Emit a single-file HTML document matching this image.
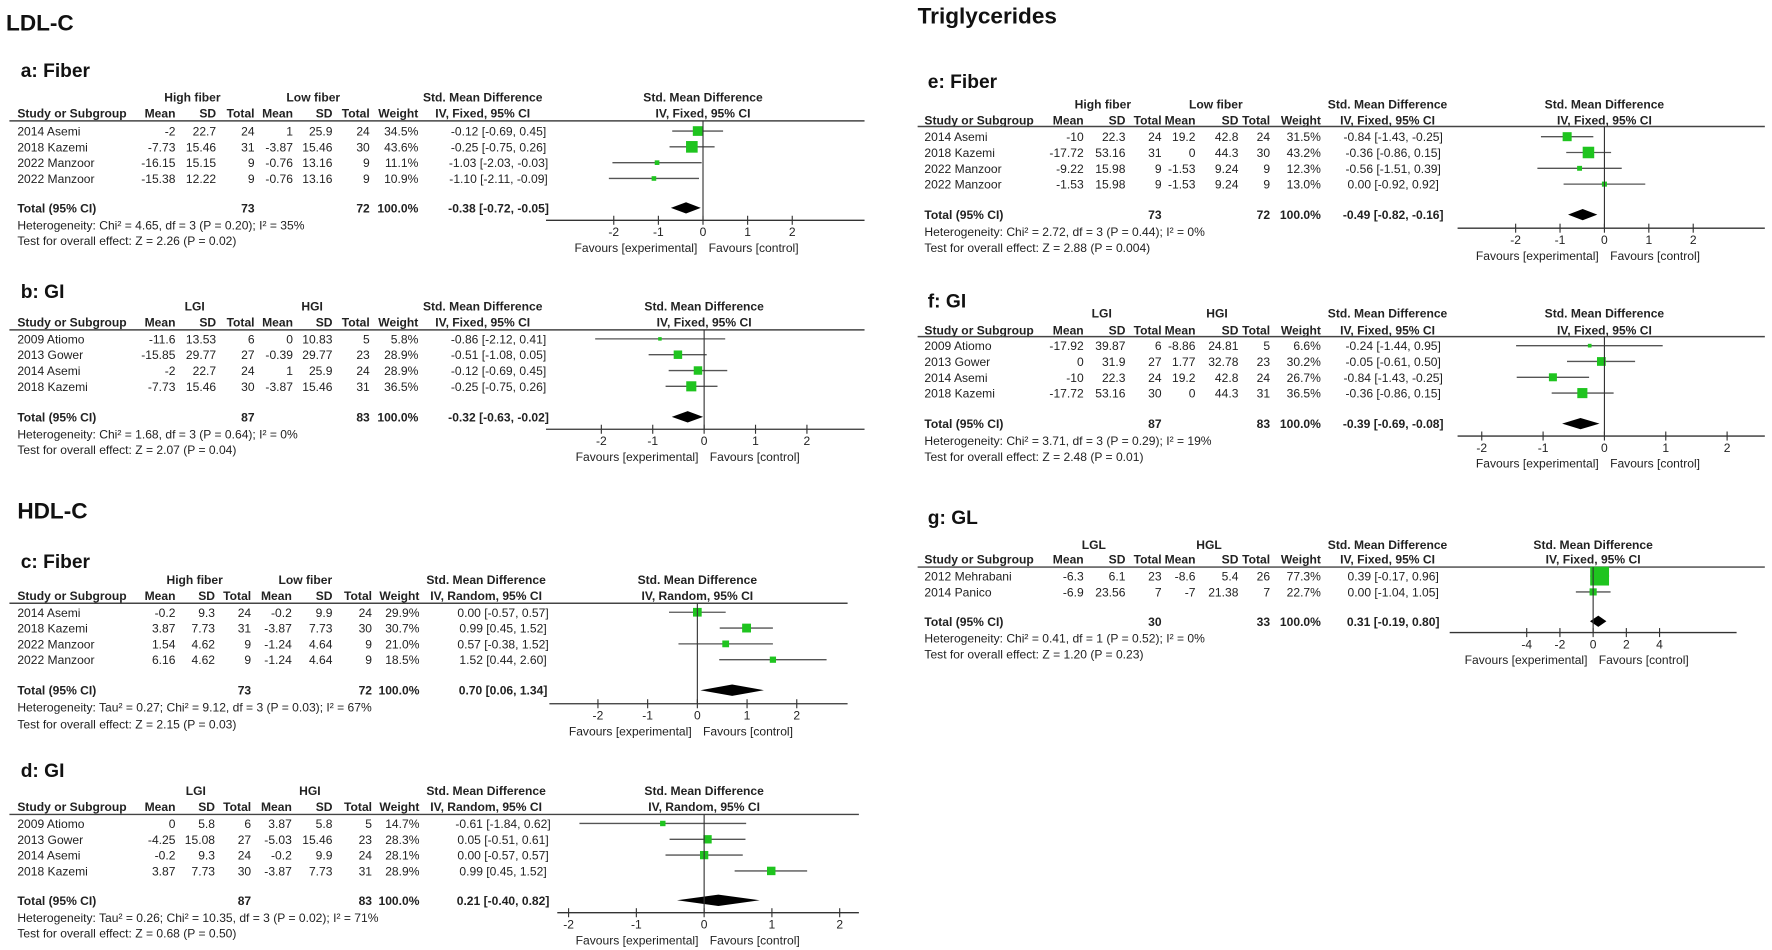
<!DOCTYPE html>
<html><head><meta charset="utf-8"><title>Forest plots</title>
<style>
html,body{margin:0;padding:0;background:#fff;}
svg{display:block;font-family:"Liberation Sans",Arial,sans-serif;}
.t{font-size:10.7px;fill:#222;}
.b{font-weight:bold;}
</style></head>
<body>
<svg id="fig" width="1772" height="950" viewBox="0 0 1568 841" xmlns="http://www.w3.org/2000/svg">
<text x="5" y="27" font-size="20" font-weight="bold" fill="#111">LDL-C</text>
<text x="812" y="21" font-size="20" font-weight="bold" fill="#111">Triglycerides</text>
<text x="15" y="459" font-size="20" font-weight="bold" fill="#111">HDL-C</text>
</svg>
<script>
// ---- Panel a: LDL-C Fiber ----
const aStudy=["2014 Asemi","2018 Kazemi","2022 Manzoor","2022 Manzoor"];
const aExp=[["-2","22.7","24"],["-7.73","15.46","31"],["-16.15","15.15","9"],["-15.38","12.22","9"]];
const aCtl=[["1","25.9","24"],["-3.87","15.46","30"],["-0.76","13.16","9"],["-0.76","13.16","9"]];
const aWeight=[34.5,43.6,11.1,10.9];
const aSmd=[-0.12,-0.25,-1.03,-1.10];
const aLo=[-0.69,-0.75,-2.03,-2.11];
const aHi=[0.45,0.26,-0.03,-0.09];
const aTotal=[-0.38,-0.72,-0.05];
const aN=[73,72];
const aTicks=[-2,-1,0,1,2];
// ---- Panel b: LDL-C GI ----
const bStudy=["2009 Atiomo","2013 Gower","2014 Asemi","2018 Kazemi"];
const bExp=[["-11.6","13.53","6"],["-15.85","29.77","27"],["-2","22.7","24"],["-7.73","15.46","30"]];
const bCtl=[["0","10.83","5"],["-0.39","29.77","23"],["1","25.9","24"],["-3.87","15.46","31"]];
const bWeight=[5.8,28.9,28.9,36.5];
const bSmd=[-0.86,-0.51,-0.12,-0.25];
const bLo=[-2.12,-1.08,-0.69,-0.75];
const bHi=[0.41,0.05,0.45,0.26];
const bTotal=[-0.32,-0.63,-0.02];
const bN=[87,83];
const bTicks=[-2,-1,0,1,2];
// ---- Panel c: HDL-C Fiber ----
const cStudy=["2014 Asemi","2018 Kazemi","2022 Manzoor","2022 Manzoor"];
const cExp=[["-0.2","9.3","24"],["3.87","7.73","31"],["1.54","4.62","9"],["6.16","4.62","9"]];
const cCtl=[["-0.2","9.9","24"],["-3.87","7.73","30"],["-1.24","4.64","9"],["-1.24","4.64","9"]];
const cWeight=[29.9,30.7,21.0,18.5];
const cSmd=[0.00,0.99,0.57,1.52];
const cLo=[-0.57,0.45,-0.38,0.44];
const cHi=[0.57,1.52,1.52,2.60];
const cTotal=[0.70,0.06,1.34];
const cN=[73,72];
const cTicks=[-2,-1,0,1,2];
// ---- Panel d: HDL-C GI ----
const dStudy=["2009 Atiomo","2013 Gower","2014 Asemi","2018 Kazemi"];
const dExp=[["0","5.8","6"],["-4.25","15.08","27"],["-0.2","9.3","24"],["3.87","7.73","30"]];
const dCtl=[["3.87","5.8","5"],["-5.03","15.46","23"],["-0.2","9.9","24"],["-3.87","7.73","31"]];
const dWeight=[14.7,28.3,28.1,28.9];
const dSmd=[-0.61,0.05,0.00,0.99];
const dLo=[-1.84,-0.51,-0.57,0.45];
const dHi=[0.62,0.61,0.57,1.52];
const dTotal=[0.21,-0.40,0.82];
const dN=[87,83];
const dTicks=[-2,-1,0,1,2];
// ---- Panel e: TG Fiber ----
const eStudy=["2014 Asemi","2018 Kazemi","2022 Manzoor","2022 Manzoor"];
const eExp=[["-10","22.3","24"],["-17.72","53.16","31"],["-9.22","15.98","9"],["-1.53","15.98","9"]];
const eCtl=[["19.2","42.8","24"],["0","44.3","30"],["-1.53","9.24","9"],["-1.53","9.24","9"]];
const eWeight=[31.5,43.2,12.3,13.0];
const eSmd=[-0.84,-0.36,-0.56,0.00];
const eLo=[-1.43,-0.86,-1.51,-0.92];
const eHi=[-0.25,0.15,0.39,0.92];
const eTotal=[-0.49,-0.82,-0.16];
const eN=[73,72];
const eTicks=[-2,-1,0,1,2];
// ---- Panel f: TG GI ----
const fStudy=["2009 Atiomo","2013 Gower","2014 Asemi","2018 Kazemi"];
const fExp=[["-17.92","39.87","6"],["0","31.9","27"],["-10","22.3","24"],["-17.72","53.16","30"]];
const fCtl=[["-8.86","24.81","5"],["1.77","32.78","23"],["19.2","42.8","24"],["0","44.3","31"]];
const fWeight=[6.6,30.2,26.7,36.5];
const fSmd=[-0.24,-0.05,-0.84,-0.36];
const fLo=[-1.44,-0.61,-1.43,-0.86];
const fHi=[0.95,0.50,-0.25,0.15];
const fTotal=[-0.39,-0.69,-0.08];
const fN=[87,83];
const fTicks=[-2,-1,0,1,2];
// ---- Panel g: TG GL ----
const gStudy=["2012 Mehrabani","2014 Panico"];
const gExp=[["-6.3","6.1","23"],["-6.9","23.56","7"]];
const gCtl=[["-8.6","5.4","26"],["-7","21.38","7"]];
const gWeight=[77.3,22.7];
const gSmd=[0.39,0.00];
const gLo=[-0.17,-1.04];
const gHi=[0.96,1.05];
const gTotal=[0.31,-0.19,0.80];
const gN=[30,33];
const gTicks=[-4,-2,0,2,4];

const svg=document.getElementById('fig');
const NS='http://www.w3.org/2000/svg';
function mk(tag,attrs,parent){const e=document.createElementNS(NS,tag);for(const k in attrs)e.setAttribute(k,attrs[k]);parent.appendChild(e);return e;}
function txt(parent,x,y,s,anchor,cls){const e=mk('text',{x:x,y:y,'text-anchor':anchor||'start',class:'t '+(cls||'')},parent);e.textContent=s;return e;}
function f2(v){return (v<0?'-':'')+Math.abs(v).toFixed(2);}

const leftCols=[155,191,225,259,294,327,370];
const leftCols2=[155,190,222,258,294,329,371];
const rightCols=[959,996,1028,1058,1096,1124,1169];

const panels=[
 {id:'a',title:'a: Fiber',g1:'High fiber',g2:'Low fiber',method:'IV, Fixed, 95% CI',study:aStudy,exp:aExp,ctl:aCtl,w:aWeight,smd:aSmd,lo:aLo,hi:aHi,tot:aTotal,n:aN,ticks:aTicks,
  het:'Heterogeneity: Chi² = 4.65, df = 3 (P = 0.20); I² = 35%',test:'Test for overall effect: Z = 2.26 (P = 0.02)',
  x0:15,cols:leftCols,ci:441,ch:427,g1c:170,g2c:277,lineX:[8,765],ty:68,h1:90,h2:104,line:107,rows:[116,130,144,158],tr:184,hy:203,ty2:217,zero:622,unit:39.5,axY:195,axX:[483,765]},
 {id:'b',title:'b: GI',g1:'LGI',g2:'HGI',method:'IV, Fixed, 95% CI',study:bStudy,exp:bExp,ctl:bCtl,w:bWeight,smd:bSmd,lo:bLo,hi:bHi,tot:bTotal,n:bN,ticks:bTicks,
  het:'Heterogeneity: Chi² = 1.68, df = 3 (P = 0.64); I² = 0%',test:'Test for overall effect: Z = 2.07 (P = 0.04)',
  x0:15,cols:leftCols,ci:441,ch:427,g1c:172,g2c:276,lineX:[8,765],ty:264,h1:275,h2:289,line:292,rows:[300,314,328,342],tr:369,hy:388,ty2:402,zero:623,unit:45.5,axY:380,axX:[483,765]},
 {id:'c',title:'c: Fiber',g1:'High fiber',g2:'Low fiber',method:'IV, Random, 95% CI',study:cStudy,exp:cExp,ctl:cCtl,w:cWeight,smd:cSmd,lo:cLo,hi:cHi,tot:cTotal,n:cN,ticks:cTicks,
  het:'Heterogeneity: Tau² = 0.27; Chi² = 9.12, df = 3 (P = 0.03); I² = 67%',test:'Test for overall effect: Z = 2.15 (P = 0.03)',
  x0:15,cols:leftCols2,ci:445,ch:430,g1c:172,g2c:270,lineX:[8,750],ty:503,h1:517,h2:531,line:534,rows:[542,556,570,584],tr:611,hy:630,ty2:645,zero:617,unit:44,axY:623,axX:[486,750]},
 {id:'d',title:'d: GI',g1:'LGI',g2:'HGI',method:'IV, Random, 95% CI',study:dStudy,exp:dExp,ctl:dCtl,w:dWeight,smd:dSmd,lo:dLo,hi:dHi,tot:dTotal,n:dN,ticks:dTicks,
  het:'Heterogeneity: Tau² = 0.26; Chi² = 10.35, df = 3 (P = 0.02); I² = 71%',test:'Test for overall effect: Z = 0.68 (P = 0.50)',
  x0:15,cols:leftCols2,ci:445,ch:430,g1c:173,g2c:274,lineX:[8,760],ty:688,h1:704,h2:718,line:721,rows:[729,743,757,771],tr:797,hy:816,ty2:830,zero:623,unit:60,axY:808,axX:[493,760]},
 {id:'e',title:'e: Fiber',g1:'High fiber',g2:'Low fiber',method:'IV, Fixed, 95% CI',study:eStudy,exp:eExp,ctl:eCtl,w:eWeight,smd:eSmd,lo:eLo,hi:eHi,tot:eTotal,n:eN,ticks:eTicks,
  het:'Heterogeneity: Chi² = 2.72, df = 3 (P = 0.44); I² = 0%',test:'Test for overall effect: Z = 2.88 (P = 0.004)',
  x0:818,cols:rightCols,ci:1233,ch:1228,g1c:976,g2c:1076,lineX:[812,1562],ty:78,h1:96,h2:110,line:112,rows:[121,135,149,163],tr:190,hy:209,ty2:223,zero:1420,unit:39.3,axY:202,axX:[1290,1562]},
 {id:'f',title:'f: GI',g1:'LGI',g2:'HGI',method:'IV, Fixed, 95% CI',study:fStudy,exp:fExp,ctl:fCtl,w:fWeight,smd:fSmd,lo:fLo,hi:fHi,tot:fTotal,n:fN,ticks:fTicks,
  het:'Heterogeneity: Chi² = 3.71, df = 3 (P = 0.29); I² = 19%',test:'Test for overall effect: Z = 2.48 (P = 0.01)',
  x0:818,cols:rightCols,ci:1233,ch:1228,g1c:975,g2c:1077,lineX:[812,1562],ty:272,h1:281,h2:296,line:298,rows:[306,320,334,348],tr:375,hy:394,ty2:408,zero:1420,unit:54.3,axY:386,axX:[1290,1562]},
 {id:'g',title:'g: GL',g1:'LGL',g2:'HGL',method:'IV, Fixed, 95% CI',study:gStudy,exp:gExp,ctl:gCtl,w:gWeight,smd:gSmd,lo:gLo,hi:gHi,tot:gTotal,n:gN,ticks:gTicks,
  het:'Heterogeneity: Chi² = 0.41, df = 1 (P = 0.52); I² = 0%',test:'Test for overall effect: Z = 1.20 (P = 0.23)',
  x0:818,cols:rightCols,ci:1233,ch:1228,g1c:968,g2c:1070,lineX:[812,1562],ty:464,h1:486,h2:499,line:502,rows:[510,524],tr:550,hy:569,ty2:583,zero:1410,unit:14.7,axY:560,axX:[1283,1537]}
];

panels.forEach(p=>{
  const g=mk('g',{},svg);
  
  
  const X=v=>p.zero+v*p.unit;
  const t=mk('text',{x:p.x0+3,y:p.ty,'font-size':17,'font-weight':'bold',fill:'#111'},g);
  t.textContent=p.title;
  
  
  txt(g,p.g1c,p.h1,p.g1,'middle','b');
  txt(g,p.g2c,p.h1,p.g2,'middle','b');
  txt(g,p.ch,p.h1,'Std. Mean Difference','middle','b');
  txt(g,p.zero,p.h1,'Std. Mean Difference','middle','b');
  txt(g,p.x0,p.h2,'Study or Subgroup','start','b');
  ['Mean','SD','Total','Mean','SD','Total','Weight'].forEach((h,i)=>txt(g,p.cols[i],p.h2,h,'end','b'));
  txt(g,p.ch,p.h2,p.method,'middle','b');
  txt(g,p.zero,p.h2,p.method,'middle','b');
  mk('line',{x1:p.lineX[0],x2:p.lineX[1],y1:p.line,y2:p.line,stroke:'#444','stroke-width':1.3},g);
  p.study.forEach((s,i)=>{
    const y=p.rows[i];
    const r=mk('g',{},g);
    
    
    txt(r,p.x0,y+4,s,'start');
    const vals=[...p.exp[i],...p.ctl[i],p.w[i].toFixed(1)+'%'];
    vals.forEach((v,k)=>txt(r,p.cols[k],y+4,v,'end'));
    txt(r,p.ci,y+4,f2(p.smd[i])+' ['+f2(p.lo[i])+', '+f2(p.hi[i])+']','middle');
    const ln=mk('line',{x1:X(p.lo[i]),x2:X(p.hi[i]),y1:y,y2:y,stroke:'#555','stroke-width':1.2},r);
    
    
    const sz=2+p.w[i]*0.19;
    const sq=mk('rect',{x:X(p.smd[i])-sz/2,y:y-sz/2,width:sz,height:sz,fill:'#1fc41f'},r);
    
    
  });
  txt(g,p.x0,p.tr+4,'Total (95% CI)','start','b');
  txt(g,p.cols[2],p.tr+4,String(p.n[0]),'end','b');
  txt(g,p.cols[5],p.tr+4,String(p.n[1]),'end','b');
  txt(g,p.cols[6],p.tr+4,'100.0%','end','b');
  txt(g,p.ci,p.tr+4,f2(p.tot[0])+' ['+f2(p.tot[1])+', '+f2(p.tot[2])+']','middle','b');
  const dm=mk('polygon',{points:[X(p.tot[1])+','+p.tr,X(p.tot[0])+','+(p.tr-5),X(p.tot[2])+','+p.tr,X(p.tot[0])+','+(p.tr+5)].join(' '),fill:'#000'},g);
  
  
  txt(g,p.x0,p.hy,p.het,'start');
  txt(g,p.x0,p.ty2,p.test,'start');
  mk('line',{x1:p.zero,x2:p.zero,y1:p.line,y2:p.axY,stroke:'#333','stroke-width':1},g);
  const ax=mk('line',{x1:p.axX[0],x2:p.axX[1],y1:p.axY,y2:p.axY,stroke:'#333','stroke-width':1.2},g);
  
  
  p.ticks.forEach(v=>{
    mk('line',{x1:X(v),x2:X(v),y1:p.axY-4,y2:p.axY+4,stroke:'#333','stroke-width':1},g);
    const tl=txt(g,X(v),p.axY+14,String(v),'middle');
    
    
  });
  txt(g,p.zero-5,p.axY+28,'Favours [experimental]','end');
  txt(g,p.zero+5,p.axY+28,'Favours [control]','start');
});
</script>
</body></html>
